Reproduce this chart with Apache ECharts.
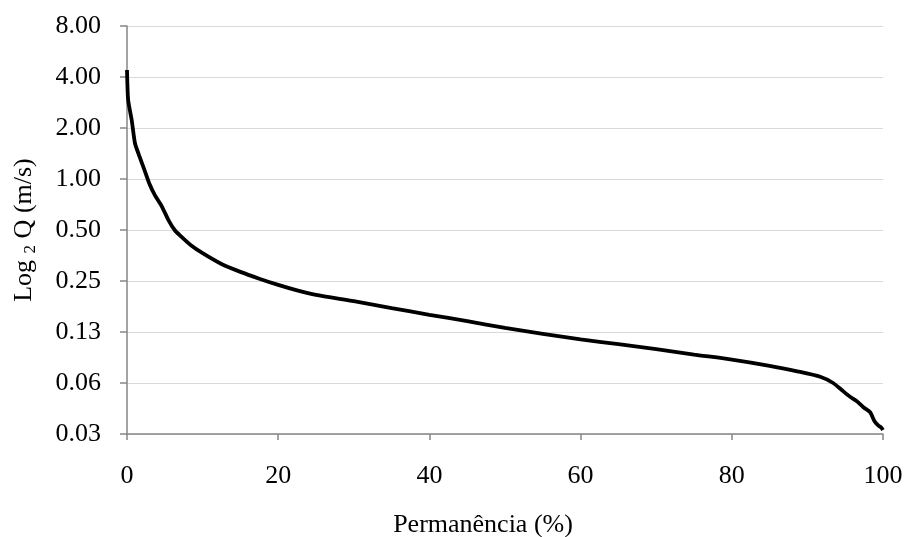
<!DOCTYPE html>
<html>
<head>
<meta charset="utf-8">
<script src="https://cdn.jsdelivr.net/npm/echarts@6/dist/echarts.min.js"></script>
<style>html,body{margin:0;padding:0;background:#fff}#c{width:905px;height:537px}</style>
</head>
<body>
<div id="c"></div>
<script>
// Permanence (% of time) and discharge values
const permanence = [0, 0.15, 0.62, 1.06, 1.6, 2.16, 2.95, 3.7, 4.6, 5.5, 6.3, 7, 8.5, 10, 12.5, 15, 17.5, 20, 22.5, 25, 30, 35, 40, 45, 50, 55, 60, 65, 70, 75, 80, 85, 88.8, 91.7, 93.4, 94.5, 95.6, 96.5, 97.4, 98.3, 98.9, 99.4, 99.8, 100];
const discharge  = [4.4, 2.93, 2.23, 1.62, 1.38, 1.18, 0.94, 0.80, 0.69, 0.57, 0.50, 0.465, 0.405, 0.365, 0.315, 0.283, 0.258, 0.237, 0.22, 0.207, 0.19, 0.173, 0.158, 0.145, 0.132, 0.122, 0.113, 0.106, 0.099, 0.092, 0.086, 0.079, 0.073, 0.068, 0.0625, 0.057, 0.052, 0.049, 0.045, 0.042, 0.037, 0.035, 0.034, 0.033];
const xTicks = [0, 20, 40, 60, 80, 100];
const yTickLabels = ['0.03', '0.06', '0.13', '0.25', '0.50', '1.00', '2.00', '4.00', '8.00'];
const xTitle = 'Permanência (%)';

const data = permanence.map((p, i) => [p, discharge[i]]);
const font = 'Liberation Serif';
const fs = 26;
const chart = echarts.init(document.getElementById('c'), null, {renderer: 'canvas'});
chart.setOption({
  animation: false,
  backgroundColor: '#fff',
  grid: {left: 127, right: 22, top: 26, bottom: 103, containLabel: false, outerBoundsMode: 'none'},
  xAxis: {
    type: 'value', min: xTicks[0], max: xTicks[xTicks.length - 1], interval: 20,
    name: xTitle, nameLocation: 'middle', nameGap: 78,
    nameTextStyle: {fontFamily: font, fontSize: fs, color: '#000', padding: [0, 44, 0, 0]},
    axisLine: {show: true, lineStyle: {color: '#868686', width: 1.5}},
    axisTick: {show: true, length: 6, lineStyle: {color: '#868686', width: 1.5}},
    axisLabel: {fontFamily: font, fontSize: fs, color: '#000', margin: 29},
    splitLine: {show: false}
  },
  yAxis: {
    type: 'log', logBase: 2, min: 0.03125, max: 8, interval: 1,
    name: '{a|Log }{s|2}{a| Q (m/s)}', nameLocation: 'middle', nameGap: 88, nameRotate: 90,
    nameTextStyle: {rich: {
      a: {fontFamily: font, fontSize: fs, color: '#000'},
      s: {fontFamily: font, fontSize: 17, color: '#000', verticalAlign: 'bottom', padding: [12, 0, 0, 0]}
    }},
    axisLine: {show: true, lineStyle: {color: '#868686', width: 1.5}},
    axisTick: {show: true, inside: false, length: 7, lineStyle: {color: '#868686', width: 1.5}},
    axisLabel: {fontFamily: font, fontSize: fs, color: '#000', margin: 26,
      formatter: v => yTickLabels[Math.round(Math.log2(v)) + 5]},
    splitLine: {show: true, lineStyle: {color: '#d9d9d9', width: 1.2}}
  },
  series: [{
    type: 'line', data: data, showSymbol: false, symbol: 'none', smooth: 0.2,
    lineStyle: {color: '#000', width: 3.8}, clip: false
  }]
});
</script>
</body>
</html>
